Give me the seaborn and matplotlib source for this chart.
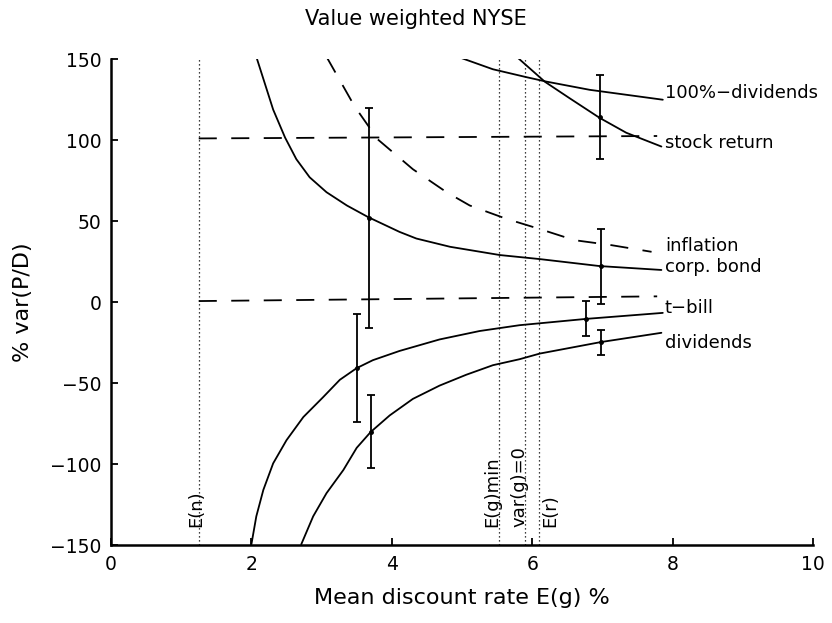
import matplotlib
matplotlib.use("Agg")
import matplotlib.pyplot as plt
import seaborn as sns

# Model curves: variance of the price/dividend ratio against mean discount rate
corp_bond_x = [2.07, 2.19, 2.31, 2.48, 2.64, 2.83, 3.07, 3.36, 3.66, 4.11, 4.35, 4.83, 5.54, 6.11, 6.96, 7.84]
corp_bond_y = [151.4, 135.1, 118.8, 101.5, 88.2, 77.0, 67.8, 59.6, 52.5, 43.3, 39.2, 34.1, 29.0, 26.5, 22.2, 19.8]

inflation_x = [3.07, 3.47, 3.80, 4.30, 4.78, 5.11, 5.63, 6.12, 6.60, 7.13, 7.70]
inflation_y = [151.4, 120.8, 100.4, 82.0, 67.8, 59.6, 51.4, 44.9, 38.2, 35.1, 31.0]

div100_x = [4.87, 5.44, 5.92, 6.20, 6.82, 7.86]
div100_y = [152.5, 143.7, 138.8, 136.1, 131.0, 124.9]

stock_x = [5.75, 6.18, 6.53, 6.96, 7.34, 7.84]
stock_y = [152.5, 136.0, 125.9, 113.7, 104.5, 96.0]

tbill_x = [2.00, 2.07, 2.17, 2.31, 2.50, 2.74, 3.02, 3.26, 3.50, 3.73, 4.11, 4.68, 5.25, 5.82, 6.77, 7.86]
tbill_y = [-149.6, -132.3, -116.0, -99.6, -85.3, -71.0, -58.8, -48.0, -40.8, -35.9, -30.2, -23.1, -17.9, -14.3, -10.4, -6.7]

dividends_x = [2.71, 2.88, 3.07, 3.31, 3.50, 3.70, 3.97, 4.30, 4.68, 5.06, 5.44, 5.82, 6.11, 6.98, 7.84]
dividends_y = [-149.6, -132.3, -118.0, -103.7, -90.0, -80.2, -70.0, -59.8, -51.6, -44.9, -39.0, -35.3, -31.8, -24.7, -19.0]

# Horizontal reference levels (dashed)
level_x = [1.25, 7.78]
stock_level_y = [101.0, 102.5]
tbill_level_y = [0.6, 3.5]

# Estimates with error bars
err_x = [3.68, 6.98, 6.96, 3.50, 6.77, 3.70, 6.98]
err_y = [52.0, 22.0, 114.0, -40.8, -10.3, -80.2, -24.8]
err_e = [68.0, 23.0, 26.0, 33.5, 10.7, 22.5, 7.8]

# Vertical markers
vline_x = [1.25, 5.52, 5.90, 6.10]
vline_names = ["E(n)", "E(g)min", "var(g)=0", "E(r)"]
vline_text_x = [1.34, 5.56, 5.94, 6.13]
vline_text_ha = ["right", "right", "right", "left"]

# Curve labels
curve_names = ["100%\u2212dividends", "stock return", "inflation", "corp. bond", "t\u2212bill", "dividends"]
curve_label_y = [129, 98.4, 34.5, 21.5, -3.7, -25]
curve_label_x = 7.89

x_ticks = [0, 2, 4, 6, 8, 10]
y_ticks = [-150, -100, -50, 0, 50, 100, 150]

sns.set_style("ticks")
plt.rcParams["font.family"] = ["DejaVu Sans"]
for key in ["text.color", "axes.labelcolor", "xtick.color", "ytick.color", "axes.edgecolor"]:
    plt.rcParams[key] = "black"

fig = plt.figure(figsize=(8.32, 6.23), dpi=100)
ax = fig.add_axes([0.1334, 0.1252, 0.8438, 0.780])

lw = 1.3
dash = (0, (10, 8))

solid_curves = [(corp_bond_x, corp_bond_y), (div100_x, div100_y), (stock_x, stock_y),
                (tbill_x, tbill_y), (dividends_x, dividends_y)]
for xs, ys in solid_curves:
    sns.lineplot(x=xs, y=ys, ax=ax, color="black", linewidth=lw, sort=False)

for xs, ys in [(inflation_x, inflation_y), (level_x, stock_level_y), (level_x, tbill_level_y)]:
    sns.lineplot(x=xs, y=ys, ax=ax, color="black", linewidth=lw, linestyle=dash, sort=False)

ax.errorbar(err_x, err_y, yerr=err_e, fmt="o", color="black", markersize=2.5,
            elinewidth=1.3, capsize=3, capthick=1.3)

ax.vlines(vline_x, -150, 150, colors="black", linestyles=(0, (1, 2.2)), linewidth=0.9)

for xv, name, ha in zip(vline_text_x, vline_names, vline_text_ha):
    ax.text(xv, -139, name, rotation=90, ha=ha, va="bottom", fontsize=13)

for name, yv in zip(curve_names, curve_label_y):
    ax.text(curve_label_x, yv, name, ha="left", va="center", fontsize=13)

ax.set_xlim(0, 10)
ax.set_ylim(-150, 150)
ax.set_xticks(x_ticks)
ax.set_yticks(y_ticks)
ax.tick_params(direction="in", length=5, width=1.3, labelsize=13.5, pad=7)
sns.despine(ax=ax)
for side in ["left", "bottom"]:
    ax.spines[side].set_linewidth(1.8)

ax.set_xlabel("Mean discount rate E(g) %", fontsize=16, labelpad=10)
ax.set_ylabel("% var(P/D)", fontsize=16, labelpad=12)
fig.text(0.5, 0.97, "Value weighted NYSE", ha="center", va="center", fontsize=15)

fig.savefig("out.png", dpi=100, facecolor="white")
